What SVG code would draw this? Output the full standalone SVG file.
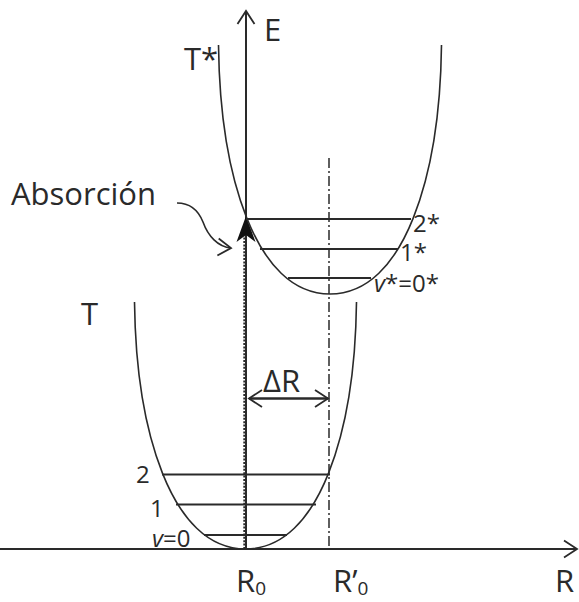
<svg xmlns="http://www.w3.org/2000/svg" width="579" height="602" viewBox="0 0 579 602">
<style>
text{font-family:"Open Sans","Liberation Sans",sans-serif;fill:#2a2a2a}
.big{font-size:31px}
.lvl{font-size:24px}
.curve{fill:none;stroke:#2a2a2a;stroke-width:1.6}
.level{stroke:#2a2a2a;stroke-width:2.2}
.axis{fill:none;stroke:#2a2a2a;stroke-width:2}
</style>
<defs>
<marker id="open" markerUnits="userSpaceOnUse" viewBox="-16 -10 20 20" refX="0" refY="0" markerWidth="20" markerHeight="20" orient="auto-start-reverse">
<path d="M-13,-8.5 L0,0 L-13,8.5" fill="none" stroke="#2a2a2a" stroke-width="1.8"/>
</marker>
</defs>
<rect width="579" height="602" fill="#fff"/>

<g id="connectors">
  <line id="r-axis" class="axis" x1="0" y1="549" x2="577" y2="549" marker-end="url(#open)"/>
  <line id="e-axis" class="axis" x1="246" y1="549" x2="246" y2="11" stroke-width="1.6" marker-end="url(#open)"/>
  <line id="dashdot" x1="329" y1="158" x2="329" y2="549" stroke="#2a2a2a" stroke-width="1.5" stroke-dasharray="10,3,2,3"/>
  <line id="absorption" x1="244.8" y1="549" x2="244.8" y2="236" stroke="#2a2a2a" stroke-width="3" stroke-dasharray="2,1.4"/>
  <path id="absorption-head" d="M246,216 L255.5,242 L246,235 L236.5,242 Z" fill="#111"/>
  <line id="delta-r" x1="249" y1="398.5" x2="328" y2="398.5" stroke="#2a2a2a" stroke-width="2.6" marker-start="url(#open)" marker-end="url(#open)"/>
  <path id="absorcion-pointer" d="M177,203 C192,203 199,212 203,222 C208,236 218,247 231,248" fill="none" stroke="#2a2a2a" stroke-width="1.6" marker-end="url(#open)"/>
</g>

<g id="T-star">
  <path class="curve" d="M218.5,45 C220,174 255,294 330,294 C405,294 440,174 441.5,45"/>
  <text class="big" x="184" y="70">T*</text>
</g>
<g id="T-star-levels">
  <line class="level" x1="246" y1="219" x2="411" y2="219"/>
  <line class="level" x1="260" y1="249" x2="398" y2="249"/>
  <line class="level" x1="288" y1="278" x2="371" y2="278"/>
  <text class="lvl" x="413" y="232">2*</text>
  <text class="lvl" x="400" y="261">1*</text>
  <text class="lvl" x="374" y="292"><tspan font-style="italic">v</tspan>*=0*</text>
</g>

<g id="T">
  <path class="curve" d="M134.5,302 C136,429 170.5,549 245.5,549 C320.5,549 355,429 356.5,302"/>
  <text class="big" x="81" y="325">T</text>
</g>
<g id="T-levels">
  <line class="level" x1="162" y1="474.5" x2="330" y2="474.5"/>
  <line class="level" x1="176" y1="504.5" x2="316" y2="504.5"/>
  <line class="level" x1="204" y1="535" x2="287" y2="535"/>
  <text class="lvl" x="136" y="483">2</text>
  <text class="lvl" x="150" y="517">1</text>
  <text class="lvl" x="152" y="547"><tspan font-style="italic">v</tspan>=0</text>
</g>

<g id="labels">
  <text class="big" x="264" y="41">E</text>
  <text class="big" x="11" y="205">Absorción</text>
  <text class="big" x="263" y="392">ΔR</text>
  <text class="big" x="236" y="592">R<tspan font-size="19" dy="3">0</tspan></text>
  <text class="big" x="333" y="592">R’<tspan font-size="19" dy="3">0</tspan></text>
  <text class="big" x="555" y="592">R</text>
</g>
</svg>
